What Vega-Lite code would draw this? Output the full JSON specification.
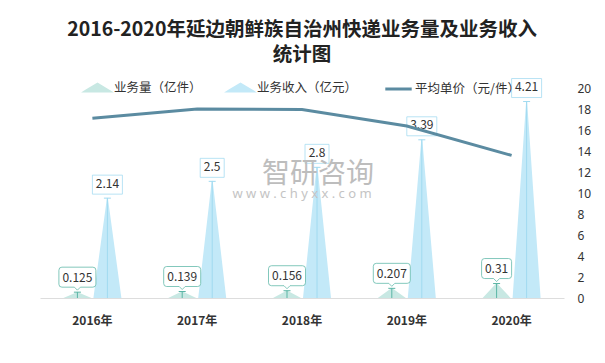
{
  "$schema": "https://vega.github.io/schema/vega-lite/v6.json",
  "width": 524,
  "height": 210,
  "autosize": {"type": "none"},
  "padding": {"left": 40, "top": 88, "right": 41, "bottom": 65},
  "background": "white",
  "config": {
    "view": {"stroke": null},
    "font": "Noto Sans CJK SC",
    "axisX": {"labelFontWeight": "bold", "labelFontSize": 12, "labelColor": "#333333", "ticks": false, "tickSize": 0, "labelPadding": 17, "domainColor": "#dddddd", "labelAngle": 0, "grid": false, "labelFont": "Noto Sans CJK SC"},
    "axisY": {"labelColor": "#333333", "labelFontSize": 12, "ticks": false, "tickSize": 0, "domain": false, "grid": false, "labelPadding": 13, "labelFont": "Noto Sans"}
  },
  "title": {
    "text": ["2016-2020年延边朝鲜族自治州快递业务量及业务收入", "统计图"],
    "fontSize": 19.5,
    "fontWeight": "bold",
    "font": "Noto Sans CJK SC",
    "color": "#222222",
    "anchor": "middle",
    "frame": "group",
    "lineHeight": 25,
    "offset": 10
  },
  "datasets": {
    "bars": [
      {"year": "2016年", "series": "业务量（亿件）", "value": 0.125},
      {"year": "2016年", "series": "业务收入（亿元）", "value": 2.14},
      {"year": "2017年", "series": "业务量（亿件）", "value": 0.139},
      {"year": "2017年", "series": "业务收入（亿元）", "value": 2.5},
      {"year": "2018年", "series": "业务量（亿件）", "value": 0.156},
      {"year": "2018年", "series": "业务收入（亿元）", "value": 2.8},
      {"year": "2019年", "series": "业务量（亿件）", "value": 0.207},
      {"year": "2019年", "series": "业务收入（亿元）", "value": 3.39},
      {"year": "2020年", "series": "业务量（亿件）", "value": 0.31},
      {"year": "2020年", "series": "业务收入（亿元）", "value": 4.21}
    ],
    "price": [
      {"year": "2016年", "series": "平均单价（元/件）", "price": 17.12},
      {"year": "2017年", "series": "平均单价（元/件）", "price": 17.99},
      {"year": "2018年", "series": "平均单价（元/件）", "price": 17.95},
      {"year": "2019年", "series": "平均单价（元/件）", "price": 16.38},
      {"year": "2020年", "series": "平均单价（元/件）", "price": 13.58}
    ]
  },
  "layer": [
    {
      "data": {"name": "bars"},
      "transform": [
        {"calculate": "toString(datum.value)", "as": "label"},
        {"calculate": "(datum.series === '业务量（亿件）' ? 'a' : 'b') + length(datum.label)", "as": "bx"}
      ],
      "encoding": {
        "x": {"field": "year", "type": "nominal", "title": null, "scale": {"paddingInner": 0, "paddingOuter": 0}},
        "xOffset": {"field": "series", "type": "nominal", "scale": {"type": "point", "domain": ["业务量（亿件）", "业务收入（亿元）"], "range": [37.4, 67.4], "padding": 0}}
      },
      "layer": [
        {
          "transform": [
            {"calculate": "[0, datum.value]", "as": "ys"},
            {"flatten": ["ys"]},
            {"calculate": "datum.ys > 0 ? 0 : 1", "as": "w"}
          ],
          "mark": {"type": "trail", "clip": true},
          "encoding": {
            "y": {"field": "ys", "type": "quantitative", "scale": {"domain": [0, 4.5]}, "axis": null},
            "size": {"field": "w", "type": "quantitative", "scale": {"domain": [0, 1], "range": [0, 28], "zero": true}, "legend": null},
            "color": {"field": "series", "type": "nominal", "title": null, "scale": {"domain": ["业务量（亿件）", "业务收入（亿元）", "平均单价（元/件）"], "range": ["#c8e8e3", "#c3e9f8", "#5b8ba1"]},
              "legend": {
                "orient": "none", "legendX": 45, "legendY": -13, "direction": "horizontal", "padding": 0,
                "symbolSize": 484, "labelFontSize": 12.5, "labelColor": "#333333", "labelFont": "Noto Sans CJK SC", "labelOffset": 4, "columnPadding": 21, "labelLimit": 200,
                "encode": {
                  "symbols": {"update": {
                    "shape": {"signal": "datum.value === '平均单价（元/件）' ? 'M-1.2,0H1.2' : 'M-1,0.3L0,-0.3L1,0.3Z'"},
                    "fill": {"signal": "datum.value === '平均单价（元/件）' ? 'transparent' : scale('color', datum.value)"},
                    "stroke": {"signal": "datum.value === '平均单价（元/件）' ? scale('color', datum.value) : 'transparent'"},
                    "strokeWidth": {"value": 3},
                    "opacity": {"value": 1}
                  }}
                }
              }
            },
            "detail": {"field": "year"},
            "order": {"field": "ys", "type": "quantitative"}
          }
        },
        {
          "mark": {"type": "rule", "strokeWidth": 1},
          "encoding": {
            "y": {"field": "value", "type": "quantitative", "scale": {"domain": [0, 4.5]}, "axis": null},
            "y2": {"datum": 0},
            "stroke": {"field": "series", "type": "nominal", "scale": {"domain": ["业务量（亿件）", "业务收入（亿元）"], "range": ["#5ab5a5", "#a0daf0"]}, "legend": null}
          }
        },
        {
          "mark": {"type": "point", "filled": false, "size": 4, "shape": "M-3.5,0H3.5", "strokeWidth": 1, "opacity": 1},
          "encoding": {
            "y": {"field": "value", "type": "quantitative", "scale": {"domain": [0, 4.5]}, "axis": null},
            "stroke": {"field": "series", "type": "nominal", "legend": null}
          }
        },
        {
          "mark": {"type": "point", "filled": false, "fill": "white", "fillOpacity": 1, "size": 4, "strokeWidth": 1, "strokeOpacity": 0.75, "opacity": 1},
          "encoding": {
            "y": {"field": "value", "type": "quantitative", "scale": {"domain": [0, 4.5]}, "axis": null},
            "stroke": {"field": "series", "type": "nominal", "legend": null},
            "shape": {"field": "bx", "type": "nominal", "legend": null, "scale": {"domain": ["a4", "a5", "b3", "b4"], "range": [
              "M-12,-25H12Q15,-25 15,-22V-8Q15,-5 12,-5H3L0,-2L-3,-5H-12Q-15,-5 -15,-8V-22Q-15,-25 -12,-25Z",
              "M-15.5,-25H15.5Q18.5,-25 18.5,-22V-8Q18.5,-5 15.5,-5H3L0,-2L-3,-5H-15.5Q-18.5,-5 -18.5,-8V-22Q-18.5,-25 -15.5,-25Z",
              "M-12,-23H12V-4H-12Z",
              "M-15,-23H15V-4H-15Z"
            ]}}
          }
        },
        {
          "mark": {"type": "text", "fontSize": 12, "color": "#333333", "yOffset": -14.5, "baseline": "middle", "font": "Noto Sans CJK SC"},
          "encoding": {
            "y": {"field": "value", "type": "quantitative", "scale": {"domain": [0, 4.5]}, "axis": null},
            "text": {"field": "label"}
          }
        },
        {
          "data": {"values": [{"t": "智研咨询"}]},
          "transform": [],
          "mark": {"type": "text", "fontSize": 28, "color": "#bdbdbd", "dx": 16, "baseline": "middle", "font": "Noto Sans CJK SC"},
          "encoding": {
            "x": {"datum": "2018年"},
            "xOffset": null,
            "y": {"datum": 2.64, "type": "quantitative", "scale": {"domain": [0, 4.5]}, "axis": null},
            "text": {"field": "t"}
          }
        },
        {
          "data": {"values": [{"t": "w w w . c h y x x . c o m"}]},
          "transform": [],
          "mark": {"type": "text", "fontSize": 13, "color": "#c4c4c4", "dx": 0, "baseline": "middle", "font": "Noto Sans"},
          "encoding": {
            "x": {"datum": "2018年"},
            "xOffset": null,
            "y": {"datum": 2.23, "type": "quantitative", "scale": {"domain": [0, 4.5]}, "axis": null},
            "text": {"field": "t"}
          }
        }
      ]
    },
    {
      "data": {"name": "price"},
      "mark": {"type": "line", "strokeWidth": 3},
      "encoding": {
        "x": {"field": "year", "type": "nominal", "title": null},
        "y": {"field": "price", "type": "quantitative", "title": null, "scale": {"domain": [0, 20]}, "axis": {"orient": "right", "values": [0, 2, 4, 6, 8, 10, 12, 14, 16, 18, 20]}},
        "color": {"field": "series", "type": "nominal", "title": null}
      }
    }
  ],
  "resolve": {"scale": {"y": "independent"}}
}
